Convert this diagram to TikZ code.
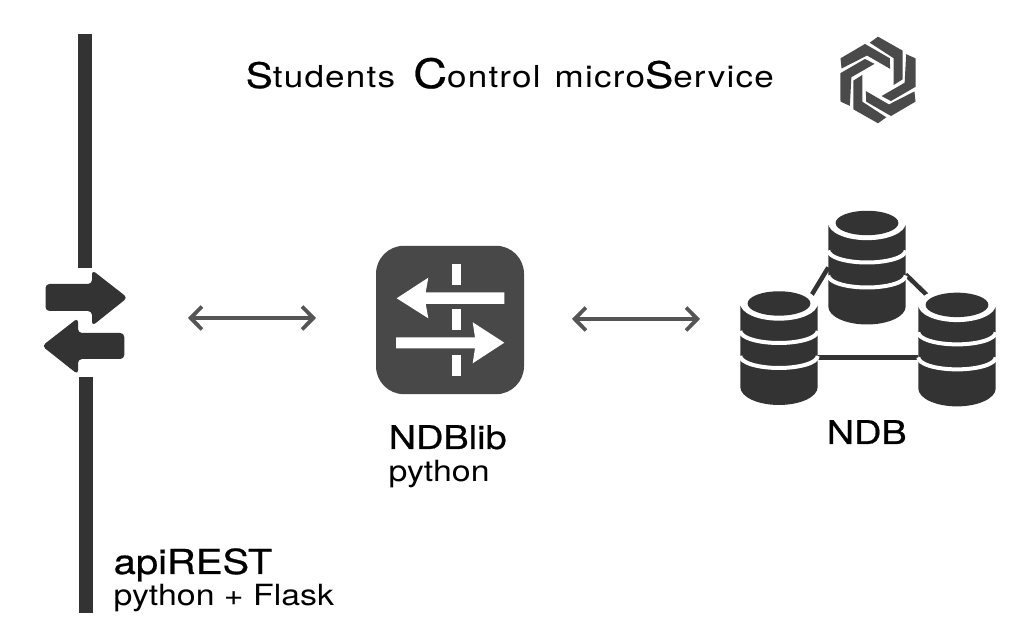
\documentclass[tikz,border=0pt]{standalone}
\usepackage{fontspec}
\setmainfont[FakeStretch=1.16]{TeX Gyre Heros}
\newfontfamily\heavyfont[FakeStretch=1.16,FakeBold=0.6]{TeX Gyre Heros}
\newfontfamily\spacedfont[FakeStretch=1.16,LetterSpace=4]{TeX Gyre Heros}
\usepackage{xcolor}
\usetikzlibrary{arrows.meta}
\definecolor{ink}{HTML}{333333}
\definecolor{libgray}{HTML}{484848}
\definecolor{logogray}{HTML}{4A4A4A}
\definecolor{linkgray}{HTML}{555555}
\tikzset{
    duplex/.style={{Straight Barb[length=3.2pt,width=6.5pt]}-{Straight Barb[length=3.2pt,width=6.5pt]},linkgray,line width=0.038cm},
    dblink/.style={ink,line width=0.045cm},
    band/.style={white,line width=0.04cm},
    maintext/.style={anchor=base west,inner sep=0pt,font=\fontsize{8.3}{10}\selectfont},
    headtext/.style={anchor=base west,inner sep=0pt,font=\heavyfont\fontsize{9.3}{12}\selectfont},
    dbspot/.style={minimum width=0.774cm,minimum height=1.14cm,inner sep=0pt,outer sep=0pt}
}
\begin{document}
\begin{tikzpicture}
    \useasboundingbox (0,0) rectangle (10.10,6.36);

    % Titre
    \node[anchor=base west,inner sep=0pt,font=\spacedfont\fontsize{8.6}{10}\selectfont] (title) at (2.45,5.48) {{\heavyfont\fontsize{10}{12}\selectfont S}tudents\hspace{0.6em}{\heavyfont\fontsize{11.5}{12}\selectfont C}ontrol\hspace{0.1em} micro{\heavyfont\fontsize{10.4}{12}\selectfont S}ervice};

    % Logo hexagonal
    \foreach \a in {0,60,...,300} {
        \fill[logogray,rotate around={\a:(8.78,5.56)}] (8.78,5.993) -- (9.027,5.853) -- (9.027,5.567) -- (8.937,5.51) -- (8.937,5.777) -- (8.697,5.933) -- cycle;
    }

    % Passerelle apiREST
    \fill[ink] (0.78,6.02) rectangle (0.92,3.68);
    \fill[ink] (0.79,2.59) rectangle (0.925,0.23);
    \fill[ink,rounded corners=0.04cm] (0.455,3.52) -- (0.92,3.52) -- (0.92,3.66) -- (1.275,3.383) -- (0.92,3.10) -- (0.92,3.25) -- (0.455,3.25) -- cycle;
    \fill[ink,rounded corners=0.04cm] (1.243,3.03) -- (0.78,3.03) -- (0.78,3.18) -- (0.42,2.90) -- (0.78,2.615) -- (0.78,2.77) -- (1.243,2.77) -- cycle;
    \coordinate (apiport) at (1.88,3.18);

    % Bloc NDBlib
    \node[fill=libgray,rounded corners=0.28cm,minimum width=1.48cm,minimum height=1.484cm,inner sep=0pt,outer sep=0pt] (ndblib) at (4.50,3.16) {};
    \foreach \y in {3.51,3.06,2.603} {
        \fill[white] (4.523,\y) rectangle (4.61,\y+0.207);
    }
    \fill[white] (3.967,3.377) -- (4.283,3.583) -- (4.257,3.437) -- (5.043,3.437) -- (5.043,3.32) -- (4.257,3.32) -- (4.283,3.177) -- cycle;
    \fill[white] (3.96,2.987) -- (4.75,2.987) -- (4.727,3.137) -- (5.043,2.933) -- (4.727,2.727) -- (4.75,2.877) -- (3.96,2.877) -- cycle;

    % Serveurs NDB
    \node[dbspot] (dbtop) at (8.67,3.685) {};
    \node[dbspot] (dbleft) at (7.79,2.88) {};
    \node[dbspot] (dbright) at (9.57,2.866) {};
    \coordinate (joinleft) at (8.08,3.35);
    \coordinate (joinright) at (9.35,3.33);
    \coordinate (ndbport) at (7.00,3.17);
    \draw[dblink] (dbtop.west) -- (joinleft);
    \draw[dblink] ([yshift=-0.07cm]dbtop.east) -- (joinright);
    \draw[dblink] ([yshift=-0.08cm]dbright.west) -- ([yshift=-0.08cm]dbright.west -| dbleft.east);
    \foreach \dbname in {dbtop,dbleft,dbright} {
        \begin{scope}[shift={(\dbname.center)}]
            \fill[ink] (-0.387,0.42) -- (-0.387,-0.39) arc[start angle=180,end angle=360,x radius=0.387,y radius=0.18] -- (0.387,0.42) -- cycle;
            \fill[white] (0,0.445) ellipse[x radius=0.387,y radius=0.172];
            \fill[ink] (0,0.445) ellipse[x radius=0.314,y radius=0.122];
            \draw[band] (-0.387,0.17) arc[start angle=180,end angle=360,x radius=0.387,y radius=0.12];
            \draw[band] (-0.387,-0.08) arc[start angle=180,end angle=360,x radius=0.387,y radius=0.12];
        \end{scope}
    }

    % Liaisons
    \draw[duplex] (apiport) -- ([xshift=-0.6cm]ndblib.west |- apiport);
    \draw[duplex] ([xshift=0.48cm]ndblib.east |- ndbport) -- (ndbport);

    % Textes
    \node[headtext] (ndblibname) at (3.88,1.87) {NDBlib};
    \node[maintext] (ndbliblang) at (3.88,1.54) {python};
    \node[headtext] (ndbname) at (8.26,1.92) {NDB};
    \node[headtext,font=\heavyfont\fontsize{9.8}{12}\selectfont] (apiname) at (1.13,0.62) {apiREST};
    \node[maintext] (apilang) at (1.13,0.30) {python + Flask};
\end{tikzpicture}
\end{document}
